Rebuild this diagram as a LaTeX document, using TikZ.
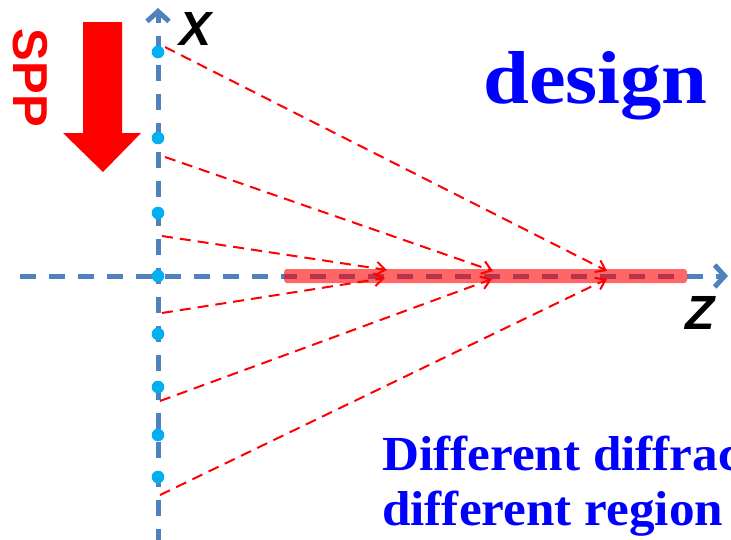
\documentclass[tikz,border=0pt]{standalone}
\usepackage{fontspec}
\setmainfont{Liberation Serif}
\setsansfont{Liberation Sans}
\usetikzlibrary{arrows.meta}
\definecolor{axisc}{HTML}{4F81BD}
\definecolor{dotc}{HTML}{00B0F0}
\definecolor{rayc}{HTML}{FF0000}
\definecolor{wordc}{HTML}{0000FF}
\tikzset{
  axis/.style={draw=axisc, line width=5pt, dash pattern=on 16pt off 13pt, -{Straight Barb[length=10pt,width=22pt]}},
  dot/.style={fill=dotc},
  ray/.style={draw=rayc, line width=2pt, dash pattern=on 11pt off 7pt, -{Straight Barb[length=9pt,width=13pt]}},
  bar/.style={fill=rayc, fill opacity=0.6, rounded corners=3pt},
  label/.style={font=\sffamily\bfseries\itshape\fontsize{48}{48}\selectfont, inner sep=0pt},
  blueword/.style={text=wordc, font=\bfseries, inner sep=0pt, anchor=base west},
}

\begin{document}
\begin{tikzpicture}[x=1pt, y=-1pt]
\clip (0,0) rectangle (731,539);
\fill[white] (0,0) rectangle (731,539);
% axes
\draw[axis] (20,276) -- (728,276);
\draw[axis] (158,545) -- (158,8);
\foreach \y in {52,138,213,276,334,387,435,477}
  \fill[dot] (158,\y) circle (6.3pt);
\node[label] (xlab) at (196,29) {X};
\node[label] (zlab) at (700,313) {Z};
% focal line
\fill[bar] (284,269) rectangle (687,283);
% rays from the slit
\coordinate (s1) at (165,47);
\coordinate (s2) at (165,157);
\coordinate (s3) at (162,236);
\coordinate (s4) at (162,313);
\coordinate (s5) at (160,401);
\coordinate (s6) at (160,495);
\coordinate (t1) at (607,271);
\coordinate (t2) at (493,271);
\coordinate (t3) at (387,270);
\coordinate (t4) at (385,278);
\coordinate (t5) at (492,279);
\coordinate (t6) at (607,279);
\foreach \i in {1,...,6}
  \draw[ray] (s\i) -- (t\i);
% SPP arrow
\fill[rayc] (83,22) -- (122,22) -- (122,133) -- (141,133) -- (103,172) -- (63,133) -- (83,133) -- cycle;
\node[text=rayc, font=\sffamily\bfseries\fontsize{49}{49}\selectfont, rotate=-90, inner sep=0pt] (spp) at (30,78) {SPP};
% texts
\node[blueword, font=\bfseries\fontsize{75}{75}\selectfont] (design) at (483,103) {\scalebox{1.1}[1]{design}};
\node[blueword, font=\bfseries\fontsize{49}{49}\selectfont] (diff1) at (382,470) {\scalebox{1.045}[1]{Different diffraction}};
\node[blueword, font=\bfseries\fontsize{49}{49}\selectfont] (diff2) at (382,525) {\scalebox{1.045}[1]{different region}};
\end{tikzpicture}
\end{document}
